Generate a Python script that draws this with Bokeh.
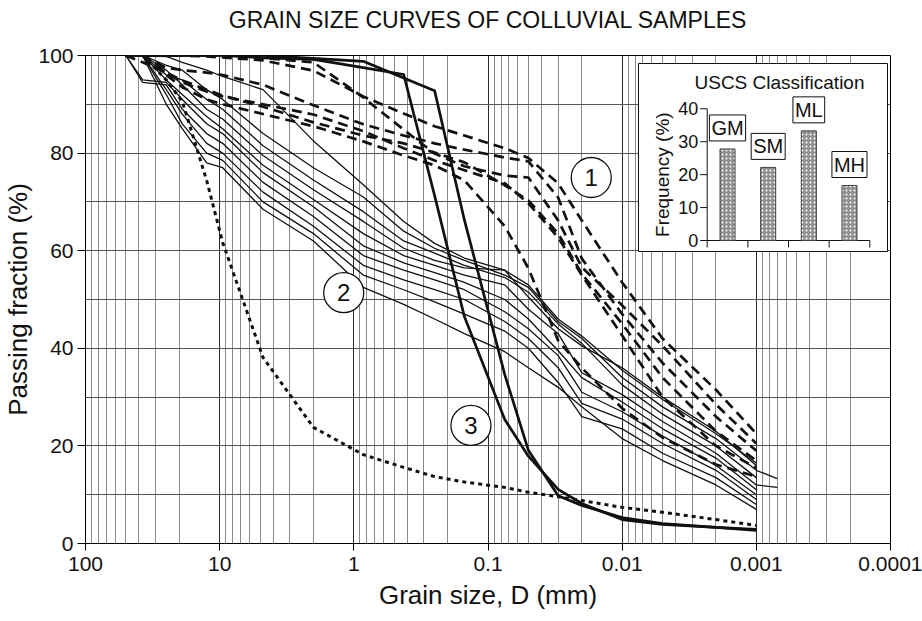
import math
from bokeh.plotting import figure
from bokeh.models import (Range1d, FixedTicker, CustomJSTickFormatter, LinearScale,
                          ColumnDataSource, Title)
from bokeh.embed import file_html
from bokeh.resources import INLINE
from bokeh.core.properties import value

NaN = float("nan")

# ---------------- data ----------------
GRAIN_MM = [50, 37.5, 25, 19, 12.5, 9.5, 4.75, 2, 0.85, 0.425, 0.25, 0.15, 0.075,
            0.05, 0.03, 0.02, 0.01, 0.005, 0.002, 0.001, 0.0007]

# group 1 (dashed)
D1 = [100, 100, 100, 100, 99.8, 99.6, 99, 96.9, 91.6, 88.1, 85.5, 83.6, 81, 79, 73.8, 66.2, 53.5, 42, 31.5, 22.5, NaN]
D2 = [100, 100, 100, 100, 100, 99.8, 99.5, 98.6, 91.4, 84.8, 79.9, 77.3, 75.4, 75, 66.2, 56.6, 48.8, 40.5, 28.5, 20.5, NaN]
D3 = [100, 100, 97.5, 97, 96.5, 96, 94, 89.8, 85.9, 83.6, 82, 80.7, 79.1, 78.3, 70.9, 58.4, 47, 37, 26, 19, NaN]
D4 = [100, 100, 96.5, 94.9, 93, 91.8, 89.5, 86.3, 83.6, 82, 80.1, 78.1, 73.4, 70.3, 63.5, 55.3, 45, 34, 23, 17, NaN]
D5 = [100, 98.6, 96.5, 94.5, 92.6, 91.6, 90, 87.9, 84.5, 81, 78.5, 76.5, 73.8, 69.7, 62.7, 55, 42.6, 30, 20, 15.5, NaN]
D6 = [100, 100, 96, 93.5, 91, 90, 88, 85.5, 82.4, 79.5, 77.5, 74.4, 65, 56.4, 41.6, 36, 27.7, 21.7, 16.2, 13.7, NaN]

# group 2 (thin solid)
S1 = [100, 100, 99.8, 98.6, 97, 95.7, 93, 82.5, 73.5, 66, 61.5, 58.5, 56, 53, 46, 42.5, 35.5, 29.5, 22.5, 16.5, NaN]
S2 = [100, 100, 98, 97, 93, 91, 84, 77, 71, 64, 60.5, 58, 55, 52.5, 45.5, 42, 34, 28, 21.5, 15, 13.3]
S3 = [100, 100, 96, 95, 91, 89, 81.5, 74.5, 68, 62, 59.5, 57, 54.5, 51.5, 45, 41, 32.5, 26.5, 20, 13.5, NaN]
S4 = [100, 100, 97, 94, 89, 87, 79.5, 72.5, 66, 60.5, 58, 56.5, 56, 50.5, 44, 40.5, 36, 30, 23, 16, NaN]
S5 = [100, 100, 95, 92, 87.5, 85, 77.5, 70.5, 63.5, 59, 57, 55, 53, 48, 43, 35, 30.5, 25, 18.5, 12, 11.5]
S6 = [100, 95, 94.5, 91, 86, 84, 76, 69, 61, 57.5, 55.5, 53.5, 50, 46, 39.5, 34, 29, 23.5, 17.5, 11, NaN]
S7 = [100, 94.5, 94, 89, 84, 82, 74, 67, 59, 56, 54, 52, 47.5, 44, 38.5, 31, 27, 22, 16, 10, NaN]
S8 = [100, 100, 93, 88, 82, 80, 72, 65, 57, 54, 52, 50, 45.5, 42, 36, 28.7, 25.5, 20.5, 15, 9, NaN]
S9 = [100, 100, 92, 86, 80, 78.5, 70, 63.5, 55, 52, 49.5, 47, 43.5, 40, 33, 26, 23.5, 18.5, 13.5, 8, NaN]
S10 = [100, 100, 90, 85, 78, 77, 68.5, 62, 52.5, 49, 46, 43, 39.3, 36, 32, 28, 21.5, 17, 12, 7, NaN]

# group 3 (thick solid)
T1 = [100, 100, 100, 100, 100, 100, 99.5, 99.2, 97.5, 96.1, 71.3, 46.5, 25.4, 17.9, 11.1, 8.2, 4.9, 3.9, 3.3, 2.9, NaN]
T2 = [100, 100, 100, 100, 100, 100, 100, 99.4, 98.8, 95.4, 92.8, 66.3, 34.6, 19.1, 9.8, 7.8, 5.3, 4.1, 3.3, 2.7, NaN]

# dotted curve
DOT = [100, 100, 95, 90.6, 74.4, 61.7, 38.1, 23.8, 18.2, 15.6, 13.7, 12.6, 11.5, 10.5, 9.6, 8.8, 7.4, 6.4, 4.9, 3.7, NaN]

GROUP_LABELS = ["1", "2", "3"]
GROUP_LABEL_MM = [0.017, 1.19, 0.134]
GROUP_LABEL_PASS = [75, 51.4, 24.2]

X_TICKS = [100, 10, 1, 0.1, 0.01, 0.001, 0.0001]
Y_TICKS = [0, 20, 40, 60, 80, 100]
Y_MINOR = [10, 30, 50, 70, 90]

USCS_CLASSES = ["GM", "SM", "ML", "MH"]
USCS_FREQ = [27.8, 22.2, 33.3, 16.7]
INSET_YTICKS = [0, 10, 20, 30, 40]

TITLE = "GRAIN SIZE CURVES OF COLLUVIAL SAMPLES"

# ---------------- layout constants (pixels) ----------------
W, H = 922, 621
FRAME_L, FRAME_R, FRAME_T, FRAME_B = 85, 890, 55, 543
TITLE_GAP = 18                    # blank band between title and frame
INS_X0, INS_XN = 706.7, 869.3     # inset category axis start/end
INS_Y0, INS_YTOP = 240.0, 108.3   # inset value axis 0 / 40
INS_BOX = (638, 887, 63, 251)     # left, right, top, bottom
FONT = "Liberation Sans"
INK = "#111111"

p = figure(width=W, height=H, x_axis_type="log",
           x_range=Range1d(100, 0.0001), y_range=Range1d(0, 100),
           output_backend="svg", toolbar_location=None,
           min_border_left=FRAME_L, min_border_right=W - FRAME_R,
           min_border_top=FRAME_T, min_border_bottom=H - FRAME_B)
p.background_fill_color = "white"
p.border_fill_color = "white"
p.outline_line_color = "black"
p.outline_line_width = 1

p.title.text = TITLE
p.title.align = "center"
p.title.vertical_align = "top"
p.title.text_font = FONT
p.title.text_font_size = "23px"
p.title.text_font_style = "normal"
p.title.text_color = INK
p.title.standoff = 0
# invisible spacer between the title and the frame
p.add_layout(Title(text=" ", text_font_size="1px", standoff=TITLE_GAP), "above")

minor_x = [m * 10.0 ** e for e in range(-4, 2) for m in range(2, 10)]
xt = FixedTicker(ticks=X_TICKS, minor_ticks=minor_x)
yt = FixedTicker(ticks=Y_TICKS, minor_ticks=Y_MINOR)
p.xaxis.ticker = xt
p.yaxis.ticker = yt
p.xgrid.ticker = xt
p.ygrid.ticker = yt
p.xaxis.formatter = CustomJSTickFormatter(code="return tick.toString();")

for ax in (p.xaxis, p.yaxis):
    ax.axis_line_color = "black"
    ax.major_tick_line_color = "black"
    ax.minor_tick_line_color = None
    ax.major_tick_in = 0
    ax.major_label_text_font = FONT
    ax.major_label_text_font_size = "21px"
    ax.major_label_text_color = INK
    ax.axis_label_text_font = FONT
    ax.axis_label_text_font_style = "normal"
    ax.axis_label_text_color = INK
p.xaxis.axis_label_text_font_size = "26px"
p.yaxis.axis_label_text_font_size = "26px"
p.xaxis.major_tick_out = 7
p.yaxis.major_tick_out = 8
p.xaxis.major_label_standoff = 6
p.yaxis.major_label_standoff = 4
p.xaxis.axis_label = "Grain size, D (mm)"
p.yaxis.axis_label = "Passing fraction (%)"
p.xaxis.axis_label_standoff = 6
p.yaxis.axis_label_standoff = 2

p.xgrid.grid_line_color = "#2a2a2a"
p.xgrid.minor_grid_line_color = "#8a8a8a"
p.ygrid.grid_line_color = "#555555"
p.ygrid.minor_grid_line_color = "#555555"

# ---------------- curves ----------------
for ys in (S1, S2, S3, S4, S5, S6, S7, S8, S9, S10):
    p.line(GRAIN_MM, ys, line_color=INK, line_width=1.3)
for ys in (D1, D2, D3, D4, D5, D6):
    p.line(GRAIN_MM, ys, line_color=INK, line_width=2.7, line_dash="10 6")
for ys in (T1, T2):
    p.line(GRAIN_MM, ys, line_color=INK, line_width=2.7)
p.line(GRAIN_MM, DOT, line_color=INK, line_width=3, line_dash="4 4")

p.scatter(GROUP_LABEL_MM, GROUP_LABEL_PASS, size=40, marker="circle",
          fill_color="white", line_color=INK, line_width=1.3)
p.text(GROUP_LABEL_MM, GROUP_LABEL_PASS, text=GROUP_LABELS, text_align="center",
       text_baseline="middle", text_font=value(FONT), text_font_size="24px",
       text_color=INK)

# ---------------- inset bar chart ----------------
ncat = len(USCS_CLASSES)
kx = (INS_XN - INS_X0) / ncat
ymax = INSET_YTICKS[-1]
ky = (INS_Y0 - INS_YTOP) / ymax
p.extra_x_ranges = {"ix": Range1d(-(INS_X0 - FRAME_L) / kx, ncat + (FRAME_R - INS_XN) / kx)}
p.extra_y_ranges = {"iy": Range1d(-(FRAME_B - INS_Y0) / ky, ymax + (INS_YTOP - FRAME_T) / ky)}
p.extra_x_scales = {"ix": LinearScale()}
p.extra_y_scales = {"iy": LinearScale()}


def ix(px):
    return (px - INS_X0) / kx


def iy(py):
    return (INS_Y0 - py) / ky


R = dict(x_range_name="ix", y_range_name="iy")
bl, br, bt, bb = INS_BOX
p.quad(left=[ix(bl)], right=[ix(br)], top=[iy(bt)], bottom=[iy(bb)],
       fill_color="white", line_color=INK, line_width=1, **R)

tick_x = 7 / kx
tick_y = 7 / ky
p.segment(x0=[0, 0], y0=[0, 0], x1=[0, ncat], y1=[ymax, 0], line_color=INK, line_width=1, **R)
p.segment(x0=[-tick_x] * len(INSET_YTICKS), y0=INSET_YTICKS, x1=[0] * len(INSET_YTICKS),
          y1=INSET_YTICKS, line_color=INK, line_width=1, **R)
p.segment(x0=list(range(ncat + 1)), y0=[0] * (ncat + 1), x1=list(range(ncat + 1)),
          y1=[-tick_y] * (ncat + 1), line_color=INK, line_width=1, **R)
p.text(x=[-tick_x] * len(INSET_YTICKS), y=INSET_YTICKS, text=[str(t) for t in INSET_YTICKS],
       x_offset=-2, text_align="right", text_baseline="middle", text_font=value(FONT),
       text_font_size="18px", text_color=INK, **R)

src = ColumnDataSource(dict(x=[i + 0.5 for i in range(ncat)], top=USCS_FREQ, cls=USCS_CLASSES))
p.vbar(x="x", top="top", bottom=0, width=0.37, source=src, fill_color="#8f8f8f",
       line_color="#444444", line_width=1, hatch_pattern="dot", hatch_color="white",
       hatch_scale=4, hatch_weight=1, **R)
p.text(x="x", y="top", text="cls", source=src, y_offset=-8,
       text_align="center", text_baseline="bottom", text_font=value(FONT),
       text_font_size="20px", text_color=INK,
       background_fill_color="white", border_line_color=INK,
       border_line_width=1, padding=2, **R)

p.text(x=[ix(779)], y=[iy(82)], text=["USCS Classification"], text_align="center",
       text_baseline="middle", text_font=value(FONT), text_font_size="19px",
       text_color=INK, **R)
p.text(x=[ix(662)], y=[ymax / 2], text=["Frequency (%)"], angle=math.pi / 2,
       text_align="center", text_baseline="middle", text_font=value(FONT),
       text_font_size="19px", text_color=INK, **R)

open("out.html", "w").write(file_html(p, INLINE))
